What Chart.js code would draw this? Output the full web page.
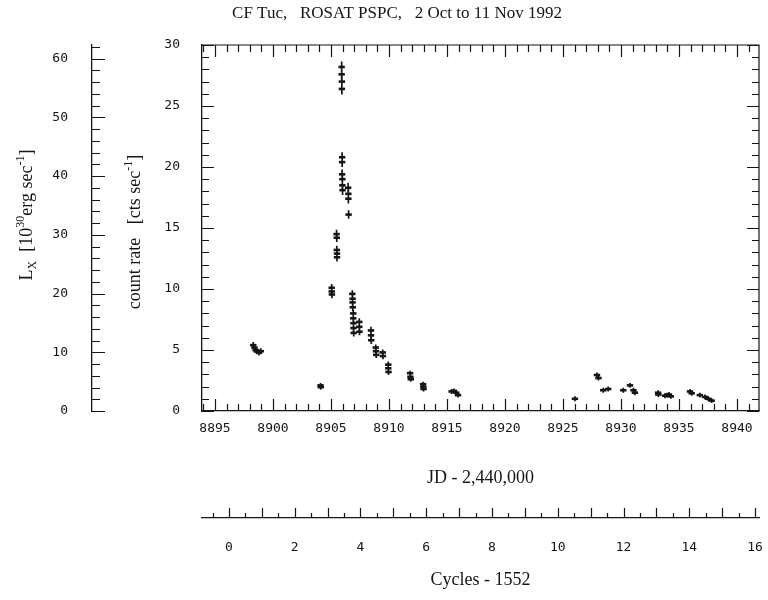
<!DOCTYPE html>
<html>
<head>
<meta charset="utf-8">
<script src="https://cdn.jsdelivr.net/npm/chart.js@4.4.0/dist/chart.umd.min.js"></script>
<style>
  html, body { margin: 0; padding: 0; background: #fff; }
</style>
</head>
<body>
<canvas id="lightCurve" width="768" height="600"></canvas>
<script>
// JD - 2,440,000 of each PSPC bin
const jdDays = [
  8898.30, 8898.40, 8898.50, 8898.60, 8898.80, 8898.95,
  8904.10, 8904.12,
  8905.06, 8905.06, 8905.08,
  8905.48, 8905.50, 8905.50, 8905.52, 8905.52,
  8905.92, 8905.92, 8905.94, 8905.94, 8905.96, 8905.96, 8905.96, 8905.98, 8905.98, 8906.00,
  8906.48, 8906.50, 8906.50, 8906.52,
  8906.84, 8906.86, 8906.86, 8906.88, 8906.92, 8906.92, 8906.94, 8906.94, 8906.96,
  8907.44, 8907.44, 8907.46,
  8908.45, 8908.45, 8908.47,
  8908.86, 8908.88, 8908.90,
  8909.46, 8909.48,
  8909.94, 8909.94, 8909.96,
  8911.82, 8911.85, 8911.88,
  8912.94, 8912.96, 8912.98,
  8915.40, 8915.60, 8915.80, 8915.95,
  8926.03,
  8927.93, 8928.06, 8928.47, 8928.90,
  8930.20, 8930.78, 8931.08, 8931.20,
  8933.20, 8933.22, 8933.80, 8933.97, 8934.14, 8934.30,
  8935.95, 8936.10, 8936.80, 8937.24, 8937.53, 8937.82
];
// count rate [cts/s]
const countRate = [
  5.4, 5.2, 5.0, 4.9, 4.8, 4.9,
  2.1, 1.95,
  10.1, 9.8, 9.55,
  14.5, 14.2, 13.2, 12.9, 12.6,
  28.2, 27.6, 27.0, 26.4, 20.8, 20.4, 19.4, 19.0, 18.5, 18.1,
  18.3, 17.8, 17.4, 16.1,
  9.6, 9.2, 8.9, 8.5, 8.0, 7.6, 7.2, 6.8, 6.4,
  7.3, 6.9, 6.5,
  6.6, 6.2, 5.8,
  5.2, 4.9, 4.6,
  4.8, 4.5,
  3.8, 3.5, 3.2,
  3.1, 2.8, 2.6,
  2.2, 2.0, 1.8,
  1.6, 1.65, 1.5, 1.3,
  1.0,
  2.95, 2.7, 1.7, 1.8,
  1.7, 2.1, 1.7, 1.5,
  1.5, 1.35, 1.25, 1.3, 1.35, 1.2,
  1.6, 1.45, 1.3, 1.15, 1.0, 0.85
];
// 1 sigma errors
const rateErr = [
  0.25, 0.25, 0.25, 0.25, 0.25, 0.25,
  0.2, 0.2,
  0.3, 0.3, 0.3,
  0.35, 0.35, 0.35, 0.35, 0.35,
  0.45, 0.45, 0.45, 0.45, 0.4, 0.4, 0.4, 0.4, 0.4, 0.4,
  0.4, 0.4, 0.4, 0.35,
  0.3, 0.3, 0.3, 0.3, 0.3, 0.3, 0.3, 0.3, 0.3,
  0.3, 0.3, 0.3,
  0.3, 0.3, 0.3,
  0.25, 0.25, 0.25,
  0.25, 0.25,
  0.25, 0.25, 0.25,
  0.2, 0.2, 0.2,
  0.2, 0.2, 0.2,
  0.2, 0.2, 0.2, 0.2,
  0.2,
  0.2, 0.2, 0.2, 0.2,
  0.2, 0.2, 0.2, 0.2,
  0.2, 0.2, 0.2, 0.2, 0.2, 0.2,
  0.2, 0.2, 0.2, 0.2, 0.2, 0.2
];

const jdTicks = [8895, 8900, 8905, 8910, 8915, 8920, 8925, 8930, 8935, 8940];
const rateTicks = [0, 5, 10, 15, 20, 25, 30];
const lxTicks = [0, 10, 20, 30, 40, 50, 60];
const cycleTicks = [0, 2, 4, 6, 8, 10, 12, 14, 16];

const INK = "#151515";
const SERIF = "'Liberation Serif', 'Times New Roman', serif";
const monoFont = { family: "'DejaVu Sans Mono', monospace", size: 13 };
const serifFont = { family: SERIF, size: 18 };

// text with super/subscripts, rotated to read bottom-up; (bx, cy) = baseline x, centre y
function drawRotatedRich(ctx, parts, bx, cy) {
  let w = 0;
  parts.forEach((p) => {
    ctx.font = p.size + "px " + SERIF;
    p.w = ctx.measureText(p.t).width;
    w += p.w;
  });
  ctx.save();
  ctx.translate(bx, cy);
  ctx.rotate(-Math.PI / 2);
  ctx.textAlign = "left";
  ctx.textBaseline = "alphabetic";
  let pos = -w / 2;
  parts.forEach((p) => {
    ctx.font = p.size + "px " + SERIF;
    ctx.fillText(p.t, pos, p.dy || 0);
    pos += p.w;
  });
  ctx.restore();
}

// tick marks drawn inside the box, like the original plot
const tickMarks = {
  id: "tickMarks",
  afterDraw(chart) {
    const { ctx, chartArea: a, scales } = chart;
    const x = scales.x, y = scales.y, yL = scales.yL, xc = scales.xc;
    ctx.save();
    ctx.strokeStyle = INK;
    ctx.lineWidth = 1.2;
    ctx.beginPath();
    // frame top / right
    ctx.moveTo(a.left, a.top); ctx.lineTo(a.right, a.top); ctx.lineTo(a.right, a.bottom);
    // days
    for (let d = Math.ceil(x.min); d <= x.max; d++) {
      const px = Math.round(x.getPixelForValue(d)) + 0.5;
      const len = d % 5 === 0 ? 12 : 7;
      ctx.moveTo(px, a.bottom); ctx.lineTo(px, a.bottom - len);
      ctx.moveTo(px, a.top); ctx.lineTo(px, a.top + len);
    }
    // count rate
    for (let r = 0; r <= y.max; r++) {
      const py = Math.round(y.getPixelForValue(r)) + 0.5;
      const len = r % 5 === 0 ? 12 : 7;
      ctx.moveTo(a.left, py); ctx.lineTo(a.left + len, py);
      ctx.moveTo(a.right, py); ctx.lineTo(a.right - len, py);
    }
    // Lx axis, ticks to the right of its line
    for (let v = 0; v <= yL.max; v += 2) {
      const py = Math.round(yL.getPixelForValue(v)) + 0.5;
      const len = v % 10 === 0 ? 13 : 8;
      ctx.moveTo(yL.right, py); ctx.lineTo(yL.right + len, py);
    }
    // cycles, ticks pointing up
    for (let c = Math.ceil(xc.min * 2) / 2; c <= xc.max; c += 0.5) {
      const px = Math.round(xc.getPixelForValue(c)) + 0.5;
      const len = Number.isInteger(c) ? 10 : 5;
      ctx.moveTo(px, xc.top); ctx.lineTo(px, xc.top - len);
    }
    ctx.stroke();

    ctx.fillStyle = INK;
    // title
    ctx.font = "17px " + SERIF;
    ctx.textAlign = "center";
    ctx.textBaseline = "middle";
    ctx.fillText("CF Tuc,   ROSAT PSPC,   2 Oct to 11 Nov 1992", 397, 14);
    // y axis titles
    drawRotatedRich(ctx, [
      { t: "L", size: 18 },
      { t: "X", size: 12, dy: 4 },
      { t: "  [10", size: 18 },
      { t: "30", size: 12, dy: -8 },
      { t: "erg sec", size: 18 },
      { t: "-1", size: 12, dy: -8 },
      { t: "]", size: 18 },
    ], 32, 215);
    drawRotatedRich(ctx, [
      { t: "count rate   [cts sec", size: 18 },
      { t: "-1", size: 12, dy: -8 },
      { t: "]", size: 18 },
    ], 140, 232);
    ctx.restore();
  }
};

// vertical error bars
const errorBars = {
  id: "errorBars",
  beforeDatasetsDraw(chart) {
    const { ctx, scales: { x, y } } = chart;
    ctx.save();
    ctx.strokeStyle = INK;
    ctx.lineWidth = 1.7;
    ctx.beginPath();
    jdDays.forEach((jd, i) => {
      const px = x.getPixelForValue(jd);
      ctx.moveTo(px, y.getPixelForValue(countRate[i] - rateErr[i]));
      ctx.lineTo(px, y.getPixelForValue(countRate[i] + rateErr[i]));
    });
    ctx.stroke();
    ctx.restore();
  }
};

function fixedSize(w, h) {
  return function (scale) {
    if (w) scale.width = w;
    if (h) scale.height = h;
    scale.paddingLeft = 0;
    scale.paddingRight = 0;
    scale.paddingTop = 0;
    scale.paddingBottom = 0;
  };
}

function tickList(arr) {
  return function (scale) {
    scale.ticks = arr.map((v) => ({ value: v }));
  };
}

const hiddenGrid = { display: false, drawTicks: false };
const axisBorder = { display: true, color: INK, width: 1.3 };

new Chart(document.getElementById("lightCurve"), {
  type: "scatter",
  data: {
    datasets: [
      {
        label: "count rate",
        data: jdDays.map((jd, i) => ({ x: jd, y: countRate[i] })),
        pointStyle: "line",
        radius: 3.2,
        borderWidth: 2.6,
        borderColor: INK,
        backgroundColor: INK,
        xAxisID: "x",
        yAxisID: "y",
      },
    ],
  },
  options: {
    responsive: false,
    animation: false,
    devicePixelRatio: 1,
    layout: { padding: { top: 45, right: 9, bottom: 0, left: 0 } },
    plugins: {
      legend: { display: false },
      tooltip: { enabled: false },
    },
    scales: {
      x: {
        type: "linear",
        position: "bottom",
        weight: 0,
        min: 8893.88,
        max: 8941.9,
        afterBuildTicks: tickList(jdTicks),
        afterFit: fixedSize(0, 107),
        grid: hiddenGrid,
        border: axisBorder,
        ticks: { font: monoFont, color: INK, padding: 10, maxRotation: 0, autoSkip: false, callback: (v) => String(v) },
        title: { display: true, text: "JD - 2,440,000", font: serifFont, color: INK, padding: { top: 0, bottom: 29 } },
      },
      xc: {
        type: "linear",
        position: "bottom",
        weight: 1,
        min: -0.82,
        max: 16.12,
        afterBuildTicks: tickList(cycleTicks),
        afterFit: fixedSize(0, 82),
        grid: hiddenGrid,
        border: axisBorder,
        ticks: { font: monoFont, color: INK, padding: 22, maxRotation: 0, autoSkip: false, callback: (v) => String(v) },
        title: { display: true, text: "Cycles - 1552", font: serifFont, color: INK, padding: { top: 0, bottom: 9 } },
      },
      y: {
        type: "linear",
        position: "left",
        weight: 0,
        min: 0,
        max: 30,
        afterBuildTicks: tickList(rateTicks),
        afterFit: fixedSize(110, 0),
        grid: hiddenGrid,
        border: axisBorder,
        ticks: { font: monoFont, color: INK, padding: 22, autoSkip: false, callback: (v) => String(v) },
        title: { display: false },
      },
      yL: {
        type: "linear",
        position: "left",
        weight: 1,
        min: 0,
        max: 62.3,
        afterBuildTicks: tickList(lxTicks),
        afterFit: fixedSize(92, 0),
        grid: hiddenGrid,
        border: axisBorder,
        ticks: { font: monoFont, color: INK, padding: 24, autoSkip: false, callback: (v) => String(v) },
        title: { display: false },
      },
    },
  },
  plugins: [errorBars, tickMarks],
});
</script>
</body>
</html>
